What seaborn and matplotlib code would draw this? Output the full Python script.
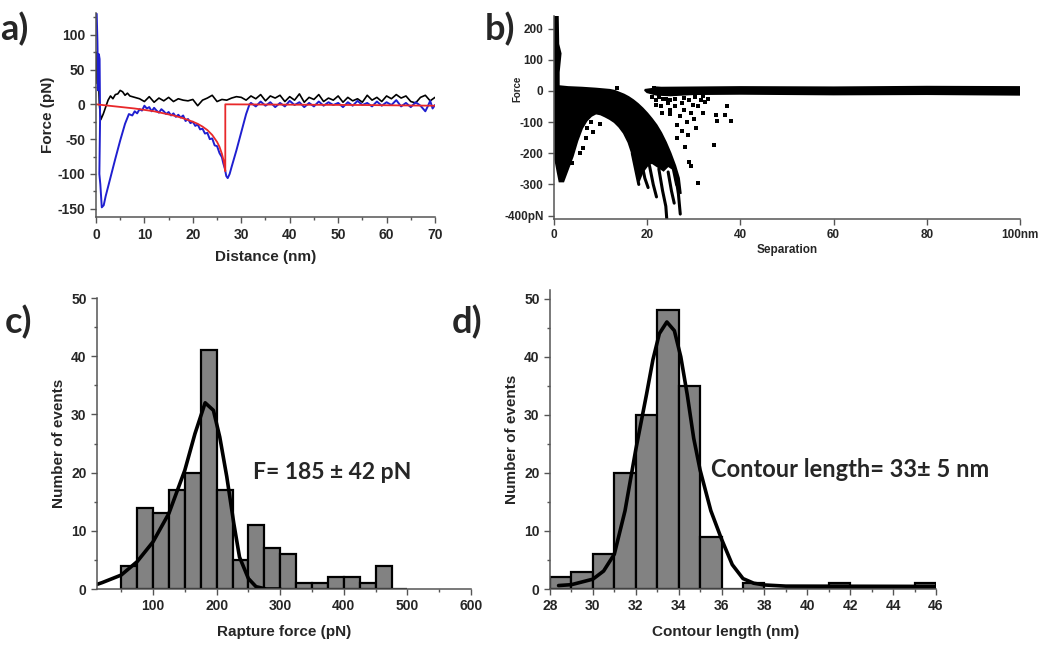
import numpy as np
import matplotlib
matplotlib.use("Agg")
import matplotlib.pyplot as plt
from matplotlib.ticker import MultipleLocator, FixedLocator
import seaborn as sns

sns.set_style("ticks")
plt.rcParams['font.family'] = ['Liberation Sans', 'DejaVu Sans']
plt.rcParams['font.weight'] = 'bold'
plt.rcParams['axes.unicode_minus'] = False

# ---- panel a: single force curve (approach / retract / WLC fit)
approach_x = [0.0, 0.2, 0.4, 0.7, 1.0, 1.5, 2.0, 2.5, 3.0, 3.5, 4.0, 4.5, 5.0, 5.5, 6.0, 6.5,
              7, 8, 9, 10, 11, 12, 13, 14, 15, 16, 17, 18, 19, 20, 21, 22, 23, 24, 25, 26, 27, 28, 29,
              30, 31, 32, 33, 34, 35, 36, 37, 38, 39, 40, 41, 42, 43, 44, 45, 46, 47, 48, 49,
              50, 51, 52, 53, 54, 55, 56, 57, 58, 59, 60, 61, 62, 63, 64, 65, 66, 67, 68, 69, 70]
approach_y = [30, 75, 65, 0, -22, -14, -4, 6, 12, 8, 14, 15, 20, 18, 13, 16,
              12, 10, 8, 4, 11, 3, 9, 5, 10, 4, 8, 6, 5, 7, -2, 6, 9, 13, 4, 7, 6, 9, 11,
              10, 6, 12, 8, 14, 5, 12, 9, 13, 4, 11, 6, 15, 3, 10, 7, 14, 4, 9, 6,
              12, 3, 10, 5, 8, 3, 13, 6, 10, 4, 12, 8, 14, 9, 12, 4, 2, 10, 13, 5, 10]
retract_x = [0.15, 0.3, 0.45, 0.6, 0.75, 0.85, 0.7, 0.9, 1.2, 1.6, 2, 3, 4, 5, 6, 6.8, 7.5, 8, 8.5,
             9, 9.5, 10, 10.5, 11, 11.5, 12, 12.5, 13, 13.5, 14, 14.5, 15, 15.5, 16, 16.5, 17, 17.5,
             18, 18.5, 19, 19.5, 20, 20.5, 21, 21.5, 22, 22.5, 23, 23.5, 24, 24.5, 25, 25.5, 26,
             26.3, 26.6, 26.9, 27.2, 27.6, 28, 29, 30, 31, 31.7, 32, 33, 34, 35, 36, 37, 38, 39,
             40, 41, 42, 43, 44, 45, 46, 47, 48, 49, 50, 51, 52, 53, 54, 55, 56, 57, 58, 59, 60,
             61, 62, 63, 64, 65, 66, 67, 68, 68.5, 69, 69.5, 70]
retract_y = [130, 90, 20, 72, 65, -20, -100, -115, -148, -145, -132, -105, -78, -52, -28, -14, -16, -10, -13,
             -7, -9, -2, -6, -4, -10, -5, -9, -12, -7, -10, -14, -11, -16, -13, -18, -15, -19,
             -16, -24, -21, -27, -25, -31, -29, -36, -35, -42, -41, -50, -49, -59, -60, -70, -76,
             -85, -92, -103, -106, -100, -90, -66, -40, -14, 0, 2, -3, 4, -2, 3, -4, 2, -3,
             5, -1, 3, -4, 2, -3, 4, -2, 3, -1, 2, -4, 3, -2, 5, -1, 2, -3, 4, -2, 3,
             -1, 6, -3, 2, -4, 3, -2, -10, -3, 5, -6, -1]
fit_x = [0, 2, 4, 6, 8, 10, 12, 14, 16, 18, 20, 21, 22, 23, 24, 25, 25.5, 26, 26.4, 26.7, 26.7, 40, 55, 70]
fit_y = [0, -1.5, -3, -4.5, -6, -8, -10, -13, -16, -20, -25, -28, -32, -37, -44, -54, -61, -71, -82, -96,
         0, -0.5, -1, -2]

# ---- panel b: overlay of many retract curves (dense regions as outlines, plus loose points)
dense_x = [0.2, 0.8, 0.9, 1.4, 1.0, 1.0, 3, 6, 9, 12, 13, 14, 15, 16, 17, 18, 19, 20, 21, 22, 23, 24, 25,
           26, 26.8, 27.2, 26.2, 25.5, 24.5, 23.5, 22, 21, 20, 19, 18.2, 17.5, 17, 16, 15, 14, 13, 12,
           11, 10, 9, 8, 7, 6, 5, 4, 3, 2, 1.2, 0.8, 0.3]
dense_y = [238, 238, 150, 120, 60, 15, 12, 10, 7, 3, 0, -6, -12, -20, -30, -42, -56, -72, -90, -110, -135,
           -165, -200, -240, -280, -330, -300, -250, -240, -255, -240, -230, -240, -260, -290, -240, -210,
           -165, -135, -115, -100, -90, -82, -75, -72, -80, -95, -120, -160, -210, -250, -290,
           -290, -260, -220]
band_x = [19.5, 21, 22, 23, 40, 60, 80, 100, 100, 80, 60, 40, 30, 25, 22, 20]
band_y = [3, 6, 11, 10, 12, 11, 13, 12, -12, -10, -11, -9, -10, -14, -12, -4]
finger_x = [[16.8, 17.5, 18.2], [18.8, 19.5, 20.2], [20.5, 21.3, 22.0],
            [22.5, 23.3, 24.0, 24.2], [24.5, 25.2, 25.8], [26.0, 26.7, 27.1]]
finger_y = [[-200, -250, -300], [-230, -280, -310], [-240, -300, -340],
            [-250, -320, -370, -410], [-260, -320, -360], [-260, -330, -395]]
dots_x = [31.9, 34.8, 35.0, 36.7, 37.1, 38.0, 30.5, 28.7, 34.4, 29.0, 29.5, 30.8, 27.5, 28.0, 29.0, 26.0,
          27.0, 25.0, 28.5, 30.0, 31.0, 32.5, 33.0, 24.0, 26.5, 27.5, 29.5, 22.0, 23.0, 25.0, 23.5,
          9.8, 8.4, 6.3, 4.8, 5.5, 7.0, 3.8, 6.8, 8.0, 13.5, 21.5, 26.5, 28.2,
          21.0, 22.5, 24.5, 26.0, 27.8, 30.2, 31.5, 24.8, 23.2, 21.8, 29.8, 32.0]
dots_y = [-72, -78, -96, -78, -48, -95, -119, -141, -173, -229, -240, -294, -40, -60, -30, -50,
          -80, -30, -100, -90, -50, -35, -25, -25, -110, -130, -70, -30, -50, -60, -25,
          -105, -133, -182, -154, -200, -120, -230, -150, -100, 8, 10, -150, -180,
          -20, -18, -40, -25, -22, -20, -28, -75, -70, -45, -45, -15]

# ---- panel c: rupture force histogram
force_edges = list(range(50, 501, 25))
force_counts = [4, 14, 13, 17, 20, 41, 17, 5, 11, 7, 6, 1, 1, 2, 2, 1, 4, 0]
force_fit_x = [12, 20, 50, 75, 100, 125, 150, 166, 182, 195, 205, 216, 227, 236, 250, 262, 278, 300]
force_fit_y = [0.8, 1.1, 2.4, 4.7, 8.1, 13.0, 20.4, 26.7, 32.0, 30.7, 26.1, 19.3, 11.3, 5.5, 1.8, 0.4, 0.0, 0.0]

# ---- panel d: contour length histogram
length_edges = list(range(28, 47))
length_counts = [2, 3, 6, 20, 30, 48, 35, 9, 0, 1, 0, 0, 0, 1, 0, 0, 0, 1]
length_fit_x = [28.4, 29.0, 30.0, 30.5, 31.0, 31.5, 32.0, 32.5, 32.8, 33.1, 33.45, 33.8, 34.1,
                34.4, 34.7, 35.0, 35.5, 36.0, 36.5, 37.0, 37.5, 38.0, 39.0, 46.0]
length_fit_y = [0.6, 0.75, 1.7, 3.1, 6.0, 13.5, 24.0, 33.5, 39.5, 44.0, 46.0, 44.5, 40.0,
                33.5, 26.0, 20.5, 13.5, 8.6, 4.2, 1.8, 1.0, 0.7, 0.5, 0.45]

fig = plt.figure(figsize=(10.5, 6.5), dpi=100)
ax_a = fig.add_axes([0.0914, 0.666, 0.3229, 0.3138])
ax_b = fig.add_axes([0.5276, 0.663, 0.4438, 0.3123])
ax_c = fig.add_axes([0.0924, 0.0938, 0.3562, 0.4477])
ax_d = fig.add_axes([0.5238, 0.0938, 0.3676, 0.4600])

spine_col = '#555555'
for ax in [ax_a, ax_b, ax_c, ax_d]:
    sns.despine(ax=ax)
    for s in ['left', 'bottom']:
        ax.spines[s].set_color(spine_col)
        ax.spines[s].set_linewidth(1.1)
    ax.tick_params(which='both', direction='out', color=spine_col, width=1.0)
    ax.tick_params(which='major', length=4, labelsize=10)
    ax.tick_params(which='minor', length=2.5)

# a
sns.lineplot(x=approach_x, y=approach_y, sort=False, estimator=None, color='black', lw=1.2, ax=ax_a)
sns.lineplot(x=retract_x, y=retract_y, sort=False, estimator=None, color='#1f1fd0', lw=1.4, ax=ax_a)
sns.lineplot(x=fit_x, y=fit_y, sort=False, estimator=None, color='#e8282a', lw=1.3, ax=ax_a)
ax_a.set_xlim(0, 70)
ax_a.xaxis.set_major_locator(MultipleLocator(10))
ax_a.xaxis.set_minor_locator(MultipleLocator(5))
ax_a.yaxis.set_major_locator(MultipleLocator(50))
ax_a.yaxis.set_minor_locator(MultipleLocator(25))
ax_a.set_ylim(-162, 131)
ax_a.set_xlabel('Distance (nm)', fontsize=11, fontweight='bold', labelpad=6)
ax_a.set_ylabel('Force (pN)', fontsize=11, fontweight='bold', labelpad=2)

# b
ax_b.fill(dense_x, dense_y, color='black', lw=1.5)
ax_b.fill(band_x, band_y, color='black', lw=1.5)
for fx, fy in zip(finger_x, finger_y):
    sns.lineplot(x=fx, y=fy, sort=False, estimator=None, color='black', lw=2.2, ax=ax_b)
sns.scatterplot(x=dots_x, y=dots_y, color='black', s=5, marker='s', linewidth=0, ax=ax_b)
ax_b.set_xlim(0, 100)
ax_b.set_ylim(-411, 240)
ax_b.xaxis.set_major_locator(FixedLocator([0, 20, 40, 60, 80, 100]))
ax_b.set_xticklabels(['0', '20', '40', '60', '80', '100nm'])
ax_b.yaxis.set_major_locator(FixedLocator([200, 100, 0, -100, -200, -300, -400]))
ax_b.set_yticklabels(['200', '100', '0', '-100', '-200', '-300', '-400pN'])
ax_b.tick_params(which='major', labelsize=8.5)
ax_b.set_xlabel('Separation', fontsize=8.5, fontweight='bold', labelpad=2)
ax_b.set_ylabel('Force', fontsize=7, fontweight='bold')
ax_b.yaxis.set_label_coords(-0.068, 0.64)

# c
bar_col = '#828282'
sns.histplot(x=[e + 12.5 for e in force_edges[:-1]], weights=force_counts, bins=force_edges,
             color=bar_col, edgecolor='black', linewidth=1.6, alpha=1, ax=ax_c)
sns.lineplot(x=force_fit_x, y=force_fit_y, sort=False, estimator=None, color='black', lw=2.6, ax=ax_c)
ax_c.set_xlim(12, 600)
ax_c.set_ylim(0, 50)
ax_c.xaxis.set_major_locator(MultipleLocator(100))
ax_c.xaxis.set_minor_locator(MultipleLocator(50))
ax_c.yaxis.set_major_locator(MultipleLocator(10))
ax_c.yaxis.set_minor_locator(MultipleLocator(5))
ax_c.set_xlabel('Rapture force (pN)', fontsize=11, fontweight='bold', labelpad=8)
ax_c.set_ylabel('Number of events', fontsize=11, fontweight='bold')
ax_c.text(258, 20, 'F= 185 \u00b1 42 pN', va='center', ha='left', fontsize=16.5,
          fontweight='bold', family=['Lato', 'DejaVu Sans'])

# d
sns.histplot(x=[e + 0.5 for e in length_edges[:-1]], weights=length_counts, bins=length_edges,
             color=bar_col, edgecolor='black', linewidth=1.6, alpha=1, ax=ax_d)
sns.lineplot(x=length_fit_x, y=length_fit_y, sort=False, estimator=None, color='black', lw=2.6, ax=ax_d)
ax_d.set_xlim(28, 46)
ax_d.set_ylim(0, 51.5)
ax_d.xaxis.set_major_locator(MultipleLocator(2))
ax_d.xaxis.set_minor_locator(MultipleLocator(1))
ax_d.yaxis.set_major_locator(MultipleLocator(10))
ax_d.yaxis.set_minor_locator(MultipleLocator(5))
ax_d.set_xlabel('Contour length (nm)', fontsize=11, fontweight='bold', labelpad=8)
ax_d.xaxis.label.set_x(0.456)
ax_d.set_ylabel('Number of events', fontsize=11, fontweight='bold')
ax_d.text(35.5, 20.6, 'Contour length= 33\u00b1 5 nm', va='center', ha='left', fontsize=17,
          fontweight='bold', family=['Lato', 'DejaVu Sans'])

# panel letters
letters = [('a)', 0.0, 0.955), ('b)', 0.462, 0.955), ('c)', 0.005, 0.505), ('d)', 0.43, 0.505)]
for lbl, px, py in letters:
    fig.text(px, py, lbl, fontsize=26, fontweight='bold', family=['Lato', 'DejaVu Sans'], va='center')

fig.savefig('out.png', dpi=100)
